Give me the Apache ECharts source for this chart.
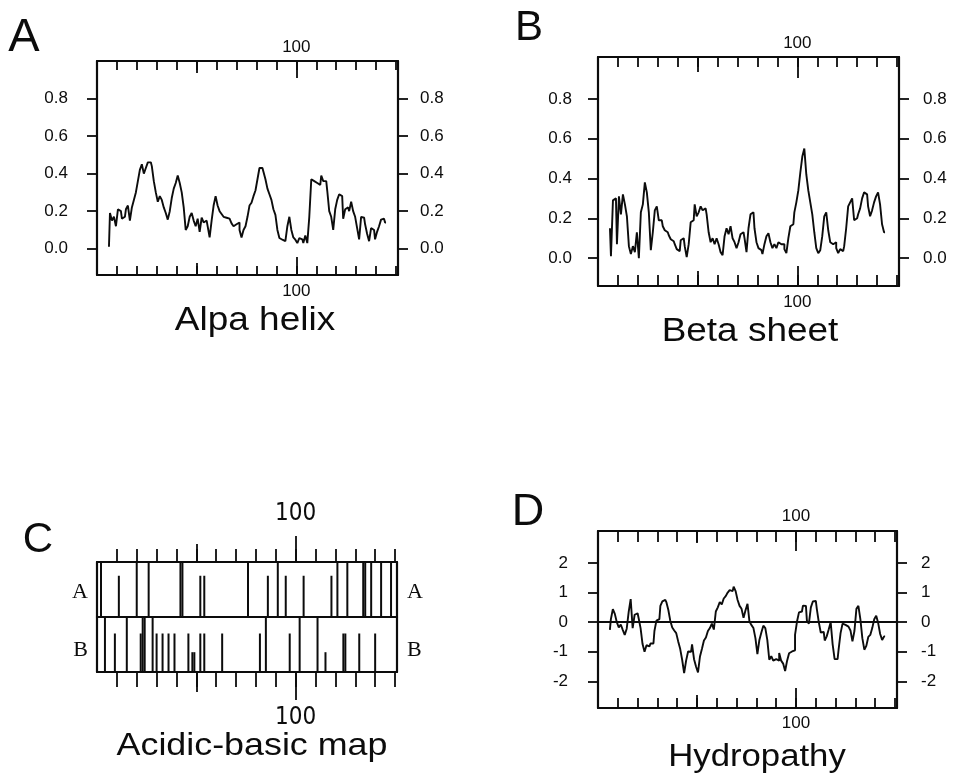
<!DOCTYPE html>
<html>
<head>
<meta charset="utf-8">
<script src="https://cdn.jsdelivr.net/npm/echarts@6.0.0/dist/echarts.min.js"></script>
<style>
  html, body { margin: 0; padding: 0; background: #fff; }
  #chart { width: 955px; height: 780px; }
</style>
</head>
<body>
<div id="chart"></div>
<script>
// residue numbering of the first window value in each profile
const firstResidue = 6;

// A: alpha helix propensity, residues 6..145
const alphaHelix = [
  0.01, 0.19, 0.15, 0.17, 0.12, 0.21, 0.20, 0.16, 0.17, 0.21,
  0.23, 0.15, 0.22, 0.26, 0.30, 0.36, 0.42, 0.45, 0.40, 0.43,
  0.46, 0.46, 0.44, 0.36, 0.30, 0.25, 0.28, 0.26, 0.22, 0.19,
  0.155, 0.20, 0.27, 0.32, 0.35, 0.39, 0.35, 0.30, 0.22, 0.10,
  0.12, 0.17, 0.19, 0.15, 0.12, 0.16, 0.09, 0.165, 0.14, 0.15,
  0.12, 0.06, 0.15, 0.23, 0.28, 0.23, 0.20, 0.185, 0.17, 0.165,
  0.16, 0.15, 0.135, 0.12, 0.13, 0.14, 0.10, 0.06, 0.10, 0.12,
  0.17, 0.23, 0.245, 0.28, 0.31, 0.37, 0.43, 0.43, 0.41, 0.37,
  0.32, 0.29, 0.26, 0.21, 0.18, 0.10, 0.057, 0.048, 0.04, 0.05,
  0.12, 0.17, 0.10, 0.06, 0.048, 0.03, 0.057, 0.05, 0.03, 0.07,
  0.03, 0.17, 0.37, 0.36, 0.35, 0.36, 0.34, 0.39, 0.36, 0.36,
  0.31, 0.20, 0.17, 0.10, 0.21, 0.26, 0.29, 0.28, 0.16, 0.21,
  0.22, 0.20, 0.25, 0.20, 0.17, 0.11, 0.05, 0.17, 0.165, 0.13,
  0.08, 0.04, 0.11, 0.10, 0.05, 0.09, 0.12, 0.155, 0.16, 0.14
];

// B: beta sheet propensity, residues 6..144
const betaSheet = [
  0.15, 0.01, 0.29, 0.30, 0.07, 0.31, 0.22, 0.32, 0.27, 0.21,
  0.06, 0.02, 0.06, 0.03, 0.13, 0.00, 0.23, 0.27, 0.38, 0.33,
  0.23, 0.04, 0.13, 0.24, 0.26, 0.19, 0.19, 0.16, 0.14, 0.13,
  0.115, 0.095, 0.085, 0.07, 0.045, 0.035, 0.09, 0.10, 0.06, 0.005,
  0.07, 0.18, 0.19, 0.27, 0.21, 0.23, 0.26, 0.24, 0.25, 0.22,
  0.13, 0.08, 0.10, 0.07, 0.10, 0.07, 0.03, 0.015, 0.11, 0.15,
  0.12, 0.16, 0.10, 0.08, 0.05, 0.08, 0.12, 0.13, 0.10, 0.03,
  0.15, 0.22, 0.23, 0.15, 0.08, 0.05, 0.04, 0.02, 0.07, 0.11,
  0.125, 0.08, 0.05, 0.07, 0.05, 0.08, 0.07, 0.07, 0.045, 0.025,
  0.10, 0.16, 0.17, 0.23, 0.28, 0.34, 0.43, 0.51, 0.55, 0.42,
  0.34, 0.28, 0.22, 0.13, 0.05, 0.025, 0.04, 0.11, 0.21, 0.23,
  0.14, 0.08, 0.07, 0.08, 0.05, 0.025, 0.045, 0.035, 0.06, 0.15,
  0.26, 0.28, 0.30, 0.19, 0.20, 0.22, 0.25, 0.30, 0.33, 0.32,
  0.26, 0.21, 0.24, 0.28, 0.31, 0.33, 0.27, 0.17, 0.13
];

// D: hydropathy, residues 6..145
const hydropathy = [
  -0.26, 0.10, 0.44, 0.28, 0.00, -0.18, -0.08, -0.26, -0.43, -0.22,
  0.35, 0.78, -0.20, 0.25, 0.30, 0.14, -0.20, -0.74, -1.00, -0.78,
  -0.82, -0.72, -0.72, -0.30, 0.05, 0.10, 0.55, 0.70, 0.75, 0.68,
  0.42, 0.05, -0.18, -0.28, -0.37, -0.65, -0.90, -1.27, -1.72, -1.30,
  -0.99, -1.00, -0.75, -1.25, -1.50, -1.70, -1.16, -0.90, -0.62, -0.52,
  -0.30, -0.20, -0.05, -0.25, 0.36, 0.50, 0.68, 0.60, 0.80, 0.88,
  1.00, 1.08, 1.05, 1.20, 1.05, 0.75, 0.55, 0.45, 0.15, 0.40,
  0.62, 0.02, -0.10, -0.20, -0.54, -1.08, -0.60, -0.35, -0.12, -0.20,
  -0.60, -1.27, -1.15, -1.30, -1.25, -1.30, -1.04, -1.30, -1.40, -1.65,
  -1.30, -1.05, -0.99, -0.95, -0.43, 0.02, 0.33, 0.36, 0.56, 0.55,
  0.05, -0.05, 0.50, 0.70, 0.72, 0.45, 0.00, -0.35, -0.33, -0.62,
  -0.48, -0.25, 0.00, -0.75, -1.25, -1.25, -0.93, -0.37, -0.05, -0.09,
  -0.15, -0.20, -0.28, -0.65, -0.30, 0.45, 0.55, 0.10, -0.54, -0.93,
  -0.80, -0.50, -0.43, -0.20, 0.10, 0.22, -0.03, -0.40, -0.60, -0.48
];

// C: acidic (row A) and basic (row B) residue positions
const acidicFull = [2, 20, 26, 42, 43, 76, 91, 121, 126, 134, 135, 138, 143, 148];
const acidicPartial = [11, 52, 54, 86, 95, 104, 118];
const basicFull = [4, 15, 23, 24, 28, 85, 102, 111];
const basicPartial = [9, 22, 30, 33, 36, 39, 46, 52, 54, 63, 82, 97, 124, 125, 132, 140];
const basicShort = [48, 49, 115];
const acidicPartialLevel = 0.75;
const basicPartialLevel = 0.7;
const basicShortLevel = 0.36;

// ticks and labels
const residueTicks = [10, 20, 30, 40, 50, 60, 70, 80, 90, 100, 110, 120, 130, 140, 150];
const midTicks = [50];
const majorTicks = [100];
const residueLabels = [100];
const fractionTicks = [0, 0.2, 0.4, 0.6, 0.8];
const hydroTicks = [-2, -1, 0, 1, 2];
const panelLetters = ['A', 'B', 'C', 'D'];
const panelTitles = ['Alpa helix', 'Beta sheet', 'Acidic-basic map', 'Hydropathy'];
const rowNames = ['A', 'B'];

const INK = '#0c0c0c';
const X_MAX = 151;
const numFont = { fontFamily: 'Liberation Sans', fontSize: 17, color: INK };
const narrowFont = { fontFamily: "'Liberation Sans Narrow', 'DejaVu Sans Condensed', sans-serif", fontSize: 24, color: INK };
const rowFont = { fontFamily: 'Liberation Serif', fontSize: 22, color: INK };

const grids = [];
const xAxes = [];
const yAxes = [];
const series = [];

function addGrid(left, top, width, height) {
  grids.push({ left, top, width, height, containLabel: false, outerBoundsMode: 'none', show: false });
  return grids.length - 1;
}

function tickAxis(grid, position, inside, length, values) {
  xAxes.push({
    gridIndex: grid, type: 'value', position, min: 0, max: X_MAX,
    axisLine: { show: false, onZero: false },
    axisTick: { show: true, inside, length, customValues: values, lineStyle: { color: INK, width: 1.8 } },
    axisLabel: { show: false },
    splitLine: { show: false }
  });
}

// one edge of a residue axis: line, ticks every 10, longer at 50 and 100
function edgeX(grid, position, inside, lengths, margin, font) {
  const idx = xAxes.length;
  xAxes.push({
    gridIndex: grid, type: 'value', position, min: 0, max: X_MAX,
    axisLine: { show: true, onZero: false, lineStyle: { color: INK, width: 2.2 } },
    axisTick: lengths
      ? { show: true, inside, length: lengths[0], customValues: residueTicks, lineStyle: { color: INK, width: 1.8 } }
      : { show: false },
    axisLabel: font ? Object.assign({ show: true, customValues: residueLabels, margin }, font) : { show: false },
    splitLine: { show: false }
  });
  if (lengths) {
    tickAxis(grid, position, inside, lengths[1], midTicks);
    tickAxis(grid, position, inside, lengths[2], majorTicks);
  }
  return idx;
}

function edgeY(grid, position, min, max, ticks, margin, formatter) {
  yAxes.push({
    gridIndex: grid, type: 'value', position, min, max,
    axisLine: { show: true, onZero: false, lineStyle: { color: INK, width: 2.2 } },
    axisTick: { show: true, inside: false, length: 10, customValues: ticks, lineStyle: { color: INK, width: 1.8 } },
    axisLabel: Object.assign({ show: true, customValues: ticks, margin, formatter }, numFont),
    splitLine: { show: false }
  });
  return yAxes.length - 1;
}

function rowY(grid, position, name, at, margin) {
  yAxes.push({
    gridIndex: grid, type: 'value', position, min: 0, max: 1,
    axisLine: { show: true, onZero: false, lineStyle: { color: INK, width: 2.2 } },
    axisTick: { show: false },
    axisLabel: Object.assign({ show: true, customValues: [at], margin, formatter: () => name }, rowFont),
    splitLine: { show: false }
  });
  return yAxes.length - 1;
}

const fmtFraction = v => v.toFixed(1);
const fmtInt = v => String(v);

function profile(values, xi, yi) {
  return {
    type: 'line', xAxisIndex: xi, yAxisIndex: yi, step: 'middle',
    symbol: 'none', showSymbol: false, silent: true, clip: true,
    lineStyle: { color: INK, width: 1.9 },
    data: values.map((v, i) => [firstResidue + i, v])
  };
}

// ---- A: alpha helix
const gA = addGrid(97, 61, 301, 214);
const xA = edgeX(gA, 'bottom', true, [9, 12, 18], 8, numFont);
edgeX(gA, 'top', true, [9, 12, 17], 5, numFont);
const yA = edgeY(gA, 'left', -0.14, 1.0, fractionTicks, 29, fmtFraction);
edgeY(gA, 'right', -0.14, 1.0, fractionTicks, 22, fmtFraction);
series.push(profile(alphaHelix, xA, yA));

// ---- B: beta sheet
const gB = addGrid(598, 57, 301, 229);
const xB = edgeX(gB, 'bottom', true, [11, 15, 20], 8, numFont);
edgeX(gB, 'top', true, [10, 15, 21], 5, numFont);
const yB = edgeY(gB, 'left', -0.14, 1.01, fractionTicks, 26, fmtFraction);
edgeY(gB, 'right', -0.14, 1.01, fractionTicks, 24, fmtFraction);
series.push(profile(betaSheet, xB, yB));

// ---- C: acidic-basic map, two rows
const gCA = addGrid(97, 562, 300, 55);
const gCB = addGrid(97, 617, 300, 55);
edgeX(gCA, 'top', false, [13, 18, 26], 36, narrowFont);
const xCA = edgeX(gCA, 'bottom', false, null, 0, null);
edgeX(gCB, 'top', false, null, 0, null);
const xCB = edgeX(gCB, 'bottom', false, [15, 20, 28], 34, narrowFont);
const yCA = rowY(gCA, 'left', rowNames[0], 0.45, 9);
rowY(gCA, 'right', rowNames[0], 0.45, 10);
const yCB = rowY(gCB, 'left', rowNames[1], 0.4, 9);
rowY(gCB, 'right', rowNames[1], 0.4, 10);

function sites(full, partial, partialLevel, short, shortLevel) {
  return full.map(p => [p, 1])
    .concat(partial.map(p => [p, partialLevel]))
    .concat(short.map(p => [p, shortLevel]));
}
const siteBar = (xi, yi, data) => ({
  type: 'bar', xAxisIndex: xi, yAxisIndex: yi, barWidth: 2, silent: true,
  itemStyle: { color: INK }, data
});
series.push(siteBar(xCA, yCA, sites(acidicFull, acidicPartial, acidicPartialLevel, [], 0)));
series.push(siteBar(xCB, yCB, sites(basicFull, basicPartial, basicPartialLevel, basicShort, basicShortLevel)));

// ---- D: hydropathy
const gD = addGrid(598, 531, 299, 177);
const xD = edgeX(gD, 'bottom', true, [10, 13, 20], 7, numFont);
edgeX(gD, 'top', true, [11, 12, 20], 6, numFont);
const yD = edgeY(gD, 'left', -2.9, 3.08, hydroTicks, 30, fmtInt);
edgeY(gD, 'right', -2.9, 3.08, hydroTicks, 24, fmtInt);
const hydro = profile(hydropathy, xD, yD);
hydro.markLine = {
  silent: true, symbol: ['none', 'none'], label: { show: false },
  lineStyle: { color: INK, width: 2.2, type: 'solid' },
  data: [{ yAxis: 0 }]
};
series.push(hydro);

// ---- panel letters and captions
function caption(text, x, y, size, stretch) {
  return {
    type: 'text', x, y, scaleX: stretch, scaleY: 1, silent: true,
    style: {
      text, x: 0, y: 0, fill: INK,
      font: size + 'px "Liberation Sans", Arial, sans-serif',
      align: 'center', verticalAlign: 'middle',
      textAlign: 'center', textVerticalAlign: 'middle'
    }
  };
}
const graphics = [
  caption(panelLetters[0], 24, 38, 47, 1),
  caption(panelLetters[1], 529, 28, 42, 1),
  caption(panelLetters[2], 38, 540, 42, 1),
  caption(panelLetters[3], 528, 513, 45, 1),
  caption(panelTitles[0], 255, 321, 33, 1.12),
  caption(panelTitles[1], 750, 332, 33, 1.12),
  caption(panelTitles[2], 252, 746, 32, 1.12),
  caption(panelTitles[3], 757, 757, 31, 1.12)
];

const chart = echarts.init(document.getElementById('chart'), null, { renderer: 'canvas' });
chart.setOption({
  animation: false,
  backgroundColor: '#fff',
  grid: grids,
  xAxis: xAxes,
  yAxis: yAxes,
  series,
  graphic: { elements: graphics }
});
</script>
</body>
</html>
